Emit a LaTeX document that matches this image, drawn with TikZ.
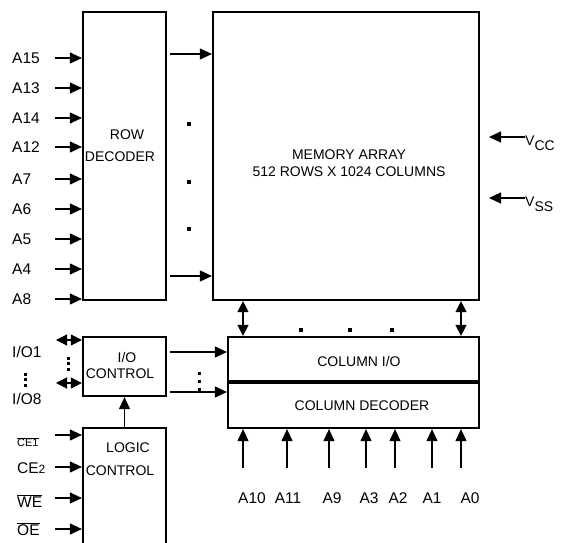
\documentclass[tikz,border=0pt]{standalone}
\usepackage{fontspec}
\setmainfont{Liberation Sans}
\usetikzlibrary{arrows.meta}
\begin{document}
\begin{tikzpicture}[x=1pt,y=-1pt,
  font=\fontsize{14}{17}\selectfont,
  box/.style={draw,line width=2.2pt,inner sep=0pt},
  txt/.style={inner sep=0pt,align=center},
  arr/.style={line width=1.1pt,-{Triangle[length=12pt,width=11pt]}},
  darr/.style={line width=1.1pt,{Triangle[length=11pt,width=11pt]}-{Triangle[length=11pt,width=11pt]}},
  lab/.style={anchor=west,inner sep=0pt,font=\fontsize{15.5}{17}\selectfont},
  clab/.style={inner sep=0pt,font=\fontsize{15.5}{17}\selectfont},
  dot/.style={fill,inner sep=0pt,minimum size=3.2pt}]
\useasboundingbox (0,0) rectangle (565,543);
\clip (0,0) rectangle (565,543);

% boxes
\node[box,minimum width=83pt,minimum height=288pt] (rd) at (124.5,156) {};
\node[box,minimum width=266pt,minimum height=288pt] (ma) at (346,156) {};
\node[box,minimum width=83pt,minimum height=59pt] (ioc) at (124.5,366.5) {};
\node[box,minimum width=83pt,minimum height=140pt] (lc) at (124.5,498) {};
\node[box,minimum width=251pt,minimum height=44.3pt] (cio) at (353.5,359.15) {};
\node[box,minimum width=251pt,minimum height=45.3pt] (cdec) at (353.5,405.35) {};

% box texts
\node[txt] (trow) at (127,135) {ROW};
\node[txt] (tdec) at (120,157) {DECODER};
\node[txt] (tma) at (349,163) {MEMORY ARRAY\\512 ROWS X 1024 COLUMNS};
\node[txt] (tio) at (127,357) {I/O};
\node[txt] (tioc) at (120,374) {CONTROL};
\node[txt] (tlog) at (128,448) {LOGIC};
\node[txt] (tlogc) at (120,471) {CONTROL};
\node[txt] (tcio) at (359,361) {COLUMN I/O};
\node[txt] (tcdec) at (362,406) {COLUMN DECODER};

% row address inputs
\foreach \n/\y in {A15/58,A13/88,A14/118,A12/147,A7/179,A6/209,A5/239,A4/269,A8/299}{
  \node[lab] (l\n) at (12,\y) {\n};
  \coordinate (s\n) at (55,\y);
  \draw[arr] (s\n) -- (s\n -| rd.west);
}

% row decoder to memory array
\coordinate (ro1) at (170,54);
\coordinate (ro2) at (170,276);
\draw[arr] (ro1) -- (ro1 -| ma.west);
\draw[arr] (ro2) -- (ro2 -| ma.west);
\node[dot] (d1) at (189,124) {};
\node[dot] (d2) at (189,182) {};
\node[dot] (d3) at (189,229) {};

% power
\coordinate (vcc) at (525,137);
\coordinate (vccT) at (489,137);
\coordinate (vss) at (525,198);
\coordinate (vssT) at (489,198);
\draw[arr] (vcc) -- (vccT);
\draw[arr] (vss) -- (vssT);
\node[anchor=base west,inner sep=0pt] (lvcc) at (525,145.5) {V\raisebox{-5pt}{CC}};
\node[anchor=base west,inner sep=0pt] (lvss) at (525,206.5) {V\raisebox{-5pt}{SS}};

% memory array <-> column I/O
\draw[darr] (ma.south -| 243,0) -- (cio.north -| 243,0);
\draw[darr] (ma.south -| 461,0) -- (cio.north -| 461,0);
\node[dot] (d4) at (301,330) {};
\node[dot] (d5) at (350,330) {};
\node[dot] (d6) at (392,330) {};

% I/O control to column
\coordinate (io1) at (170,352);
\coordinate (io2) at (170,392);
\draw[arr] (io1) -- (io1 -| cio.west);
\draw[arr] (io2) -- (io2 -| cdec.west);
\node[dot,minimum size=3pt] (d7) at (199,373) {};
\node[dot,minimum size=3pt] (d8) at (199,381) {};
\node[dot,minimum size=3pt] (d9) at (199,389) {};

% I/O pins
\coordinate (p1) at (56,340);
\coordinate (p8) at (56,383);
\draw[darr] (p1) -- (p1 -| ioc.west);
\draw[darr] (p8) -- (p8 -| ioc.west);
\node[dot,minimum size=3pt] (d10) at (68,358) {};
\node[dot,minimum size=3pt] (d11) at (68,363.5) {};
\node[dot,minimum size=3pt] (d12) at (68,369) {};
\node[lab] (lio1) at (12,352) {I/O1};
\node[lab] (lio8) at (12,399) {I/O8};
\node[dot,minimum size=3pt] (d13) at (25,374) {};
\node[dot,minimum size=3pt] (d14) at (25,379.5) {};
\node[dot,minimum size=3pt] (d15) at (25,385) {};

% logic control to I/O control
\draw[arr] (lc.north) -- (ioc.south);

% control inputs
\foreach \n/\y in {ce1/435,ce2/467,we/498,oe/529}{
  \coordinate (c\n) at (55,\y);
  \draw[arr] (c\n) -- (c\n -| lc.west);
}
\node[anchor=west,inner sep=0pt,font=\fontsize{11}{13}\selectfont] (lce1) at (17,442) {$\overline{\mbox{CE1}}$};
\node[anchor=west,inner sep=0pt] (lce2) at (17,468) {{\fontsize{15.5}{17}\selectfont CE}{\fontsize{12}{14}\selectfont 2}};
\node[lab] (lwe) at (17,501) {$\overline{\mbox{WE}}$};
\node[lab] (loe) at (17,529) {$\overline{\mbox{OE}}$};

% column address inputs
\foreach \n/\x/\lx in {A10/243/252,A11/287/288,A9/329/332,A3/366/369,A2/395/398,A1/432/432,A0/461/470}{
  \coordinate (b\n) at (\x,468);
  \draw[arr] (b\n) -- (b\n |- cdec.south);
  \node[clab] (l\n) at (\lx,498) {\n};
}
\end{tikzpicture}
\end{document}
